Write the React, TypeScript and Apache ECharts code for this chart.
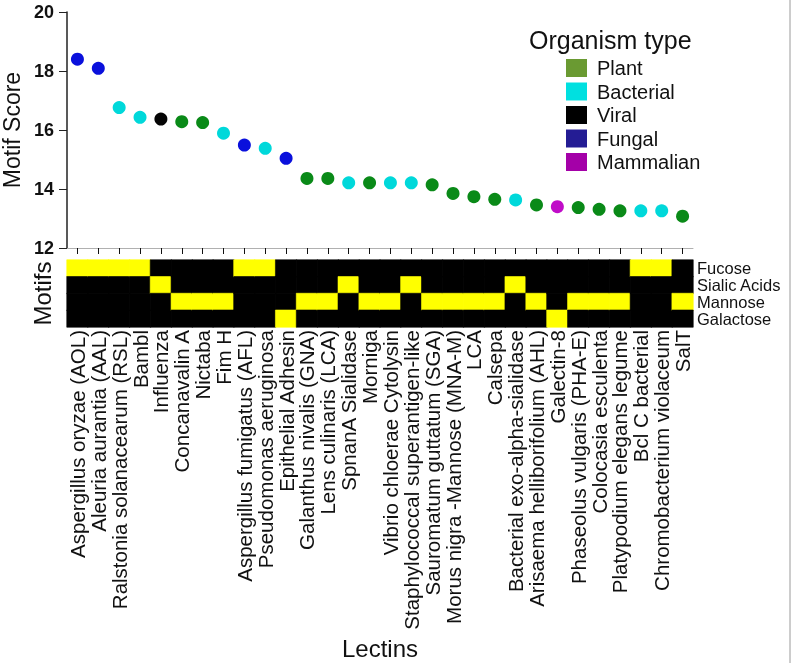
import React, { useEffect, useRef } from "react";
import * as echarts from "echarts";

const lectins = [
  "Aspergillus oryzae (AOL)",
  "Aleuria aurantia (AAL)",
  "Ralstonia solanacearum (RSL)",
  "Bambl",
  "Influenza",
  "Concanavalin A",
  "Nictaba",
  "Fim H",
  "Aspergillus fumigatus (AFL)",
  "Pseudomonas aeruginosa",
  "Epithelial Adhesin",
  "Galanthus nivalis (GNA)",
  "Lens culinaris (LCA)",
  "SpnanA Sialidase",
  "Morniga",
  "Vibrio chloerae Cytolysin",
  "Staphylococcal superantigen-like",
  "Sauromatum guttatum (SGA)",
  "Morus nigra -Mannose (MNA-M)",
  "LCA",
  "Calsepa",
  "Bacterial exo-alpha-sialidase",
  "Arisaema helliborifolium (AHL)",
  "Galectin-8",
  "Phaseolus vulgaris (PHA-E)",
  "Colocasia esculenta",
  "Platypodium elegans legume",
  "Bcl C bacterial",
  "Chromobacterium violaceum",
  "SalT",
];

const motifScores = [
  18.4, 18.09, 16.76, 16.43, 16.37, 16.28, 16.25, 15.89, 15.49, 15.38, 15.04,
  14.36, 14.36, 14.21, 14.21, 14.21, 14.21, 14.14, 13.85, 13.74, 13.65, 13.63,
  13.46, 13.4, 13.37, 13.31, 13.26, 13.26, 13.26, 13.08,
];

const organisms = [
  "Fungal", "Fungal", "Bacterial", "Bacterial", "Viral", "Plant", "Plant",
  "Bacterial", "Fungal", "Bacterial", "Fungal", "Plant", "Plant", "Bacterial",
  "Plant", "Bacterial", "Bacterial", "Plant", "Plant", "Plant", "Plant",
  "Bacterial", "Plant", "Mammalian", "Plant", "Plant", "Plant", "Bacterial",
  "Bacterial", "Plant",
];

const organismTypes = ["Plant", "Bacterial", "Viral", "Fungal", "Mammalian"];
const pointColors = ["#0a8a18", "#00d8da", "#050505", "#0a10dc", "#c00cc8"];
const legendColors = ["#6a9a32", "#00e0e0", "#000000", "#241c94", "#a400a8"];

const motifs = ["Fucose", "Sialic Acids", "Mannose", "Galactose"];
const boundMotif = [
  "Fucose", "Fucose", "Fucose", "Fucose", "Sialic Acids", "Mannose", "Mannose",
  "Mannose", "Fucose", "Fucose", "Galactose", "Mannose", "Mannose",
  "Sialic Acids", "Mannose", "Mannose", "Sialic Acids", "Mannose", "Mannose",
  "Mannose", "Mannose", "Sialic Acids", "Mannose", "Galactose", "Mannose",
  "Mannose", "Mannose", "Fucose", "Fucose", "Mannose",
];

const yTicks = [12, 14, 16, 18, 20];

const FONT = "'Liberation Sans', Arial, Helvetica, sans-serif";
const YELLOW = "#ffff00";
const BLACK = "#000000";

export default function App() {
  const ref = useRef<HTMLDivElement>(null);
  useEffect(() => {
    if (!ref.current) return;
    const chart = echarts.init(ref.current, null, { renderer: "svg" });

    const scatterSeries = organismTypes.map((t, k) => ({
      name: t,
      type: "scatter",
      xAxisIndex: 0,
      yAxisIndex: 0,
      symbolSize: 13,
      itemStyle: { color: pointColors[k], opacity: 1 },
      data: lectins
        .map((l, i) => (organisms[i] === t ? [l, motifScores[i]] : null))
        .filter((d) => d !== null),
    }));

    const heatData: any[] = [];
    lectins.forEach((l, i) => {
      motifs.forEach((m, j) => {
        const v = boundMotif[i] === m ? 1 : 0;
        heatData.push({
          value: [i, j, v],
          itemStyle: { borderColor: v ? YELLOW : BLACK, borderWidth: 0.6 },
        });
      });
    });

    chart.setOption({
      animation: false,
      textStyle: { fontFamily: FONT },
      title: {
        text: "Organism type",
        left: 524,
        top: 22,
        textStyle: { fontFamily: FONT, fontSize: 25, fontWeight: "normal", color: "#111" },
      },
      legend: {
        orient: "vertical",
        left: 561,
        top: 53,
        itemWidth: 21,
        itemHeight: 18,
        itemGap: 3.5,
        icon: "rect",
        selectedMode: false,
        textStyle: { fontFamily: FONT, fontSize: 20, color: "#111", lineHeight: 18, padding: [0, 0, 0, 5] },
        data: organismTypes.map((t, k) => ({
          name: t,
          itemStyle: { color: legendColors[k] },
        })),
      },
      grid: [
        { left: 67, top: 12, width: 626, height: 236, outerBoundsMode: "none", containLabel: false },
        { left: 67, top: 260, width: 626, height: 67, outerBoundsMode: "none", containLabel: false },
      ],
      xAxis: [
        {
          type: "category",
          gridIndex: 0,
          data: lectins,
          boundaryGap: true,
          axisLine: { show: true, lineStyle: { color: "#b0b0b0", width: 1 } },
          axisTick: { show: true, alignWithLabel: true, interval: 0, length: 6, lineStyle: { color: "#111" } },
          axisLabel: { show: false },
          splitLine: { show: false },
        },
        {
          type: "category",
          gridIndex: 1,
          data: lectins,
          position: "bottom",
          axisLine: { show: false },
          axisTick: { show: false },
          axisLabel: {
            interval: 0,
            rotate: 90,
            margin: 3,
            fontSize: 20.5,
            fontFamily: FONT,
            color: "#111",
          },
          name: "Lectins",
          nameLocation: "middle",
          nameGap: 309,
          nameTextStyle: { fontSize: 24, fontFamily: FONT, color: "#111" },
        },
      ],
      yAxis: [
        {
          type: "value",
          gridIndex: 0,
          min: 12,
          max: 20,
          interval: 2,
          axisLine: { show: true, lineStyle: { color: "#222", width: 1.5 } },
          axisTick: { show: true, length: 8, lineStyle: { color: "#222" } },
          axisLabel: {
            fontSize: 18,
            fontWeight: "bold",
            color: "#111",
            margin: 13,
            fontFamily: FONT,
            customValues: yTicks,
          },
          splitLine: { show: false },
          name: "Motif Score",
          nameLocation: "middle",
          nameGap: 36,
          nameTextStyle: { fontSize: 23, lineHeight: 23, fontFamily: FONT, color: "#111" },
        },
        {
          type: "category",
          gridIndex: 1,
          data: motifs,
          inverse: true,
          position: "right",
          axisLine: { show: false },
          axisTick: { show: false },
          axisLabel: {
            interval: 0,
            hideOverlap: false,
            fontSize: 16.5,
            lineHeight: 15,
            color: "#111",
            margin: 4,
            fontFamily: FONT,
          },
        },
        {
          type: "category",
          gridIndex: 1,
          data: motifs,
          inverse: true,
          position: "left",
          axisLine: { show: false },
          axisTick: { show: false },
          axisLabel: { show: false },
          name: "Motifs",
          nameLocation: "middle",
          nameGap: 13,
          nameTextStyle: { fontSize: 24, fontFamily: FONT, color: "#111" },
        },
      ],
      visualMap: {
        show: false,
        type: "piecewise",
        seriesIndex: organismTypes.length,
        dimension: 2,
        pieces: [
          { value: 0, color: BLACK },
          { value: 1, color: YELLOW },
        ],
      },
      graphic: [
        {
          type: "line",
          shape: { x1: 790, y1: 0, x2: 790, y2: 663 },
          style: { stroke: "#9a9a9a", lineWidth: 1 },
        },
      ],
      series: [
        ...scatterSeries,
        {
          name: "motifs",
          type: "heatmap",
          xAxisIndex: 1,
          yAxisIndex: 1,
          data: heatData,
          emphasis: { disabled: true },
        },
      ],
    });

    return () => chart.dispose();
  }, []);

  return (
    <div
      ref={ref}
      style={{ position: "fixed", left: 0, top: 0, width: 793, height: 663 }}
    />
  );
}
